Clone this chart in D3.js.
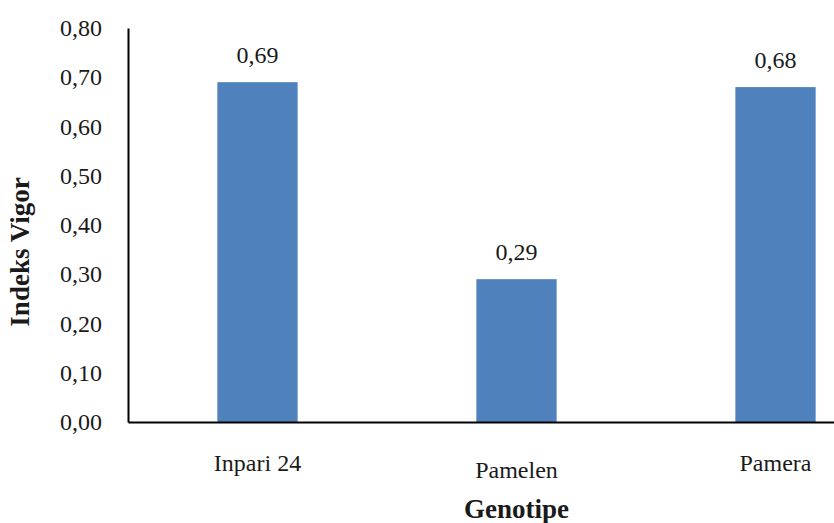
<!DOCTYPE html>
<html>
<head>
<meta charset="utf-8">
<script src="https://cdn.jsdelivr.net/npm/d3@7"></script>
<style>
  html, body { margin: 0; padding: 0; background: #ffffff; }
  svg { display: block; }
  text { font-family: "Liberation Serif", "Times New Roman", serif; fill: #1a1a1a; }
</style>
</head>
<body>
<div id="chart"></div>
<script>
// Vigour index per genotype
const genotypes = ["Inpari 24", "Pamelen", "Pamera"];
const vigorIndex = [0.69, 0.29, 0.68];
const yTicks = [0, 0.1, 0.2, 0.3, 0.4, 0.5, 0.6, 0.7, 0.8];
const yTitle = "Indeks Vigor";
const xTitle = "Genotipe";

const width = 834, height = 523;
const plot = { left: 128, right: 905, top: 28, bottom: 422 };

const svg = d3.select("#chart").append("svg")
  .attr("width", width)
  .attr("height", height);

const fmt = v => d3.format(".2f")(v).replace(".", ",");

const x = d3.scaleBand()
  .domain(genotypes)
  .range([plot.left, plot.right])
  .paddingInner(0.69)
  .paddingOuter(0.345);

const y = d3.scaleLinear()
  .domain([0, 0.8])
  .range([plot.bottom, plot.top]);

const rows = genotypes.map((g, i) => ({ g, v: vigorIndex[i], i }));

// Bars
svg.append("g").selectAll("rect")
  .data(rows)
  .join("rect")
  .attr("x", d => x(d.g))
  .attr("y", d => y(d.v))
  .attr("width", x.bandwidth())
  .attr("height", d => y(0) - y(d.v))
  .attr("fill", "#4f81bd");

// Value labels above the bars
svg.append("g").selectAll("text")
  .data(rows)
  .join("text")
  .attr("x", d => x(d.g) + x.bandwidth() / 2)
  .attr("y", d => y(d.v) - 19)
  .attr("text-anchor", "middle")
  .style("font-size", "24px")
  .text(d => fmt(d.v));

// Y axis: line only, labels to the left
const yAxis = d3.axisLeft(y)
  .tickValues(yTicks)
  .tickSize(0)
  .tickPadding(26)
  .tickFormat(fmt);

const gy = svg.append("g")
  .attr("transform", `translate(${plot.left},0)`)
  .call(yAxis);
gy.select(".domain").attr("stroke", "#000").attr("stroke-width", 2);
gy.selectAll(".tick text")
  .style("font-size", "24px")
  .style("font-family", "'Liberation Serif', 'Times New Roman', serif")
  .attr("fill", "#1a1a1a");

// X axis: baseline line and category labels
const xAxis = d3.axisBottom(x).tickSize(0).tickPadding(0);
const gx = svg.append("g")
  .attr("transform", `translate(0,${plot.bottom})`)
  .call(xAxis);
gx.select(".domain").attr("stroke", "#000").attr("stroke-width", 2);
gx.selectAll(".tick text")
  .style("font-size", "24px")
  .style("font-family", "'Liberation Serif', 'Times New Roman', serif")
  .attr("fill", "#1a1a1a")
  .attr("dy", null)
  .attr("y", (d, i) => i === 1 ? 56 : 49);

// Axis titles
svg.append("text")
  .attr("x", (x("Pamelen") + x.bandwidth() / 2))
  .attr("y", 518)
  .attr("text-anchor", "middle")
  .style("font-size", "27px")
  .style("font-weight", "bold")
  .text(xTitle);

svg.append("text")
  .attr("transform", `translate(29,252) rotate(-90)`)
  .attr("text-anchor", "middle")
  .style("font-size", "27px")
  .style("font-weight", "bold")
  .text(yTitle);
</script>
</body>
</html>
